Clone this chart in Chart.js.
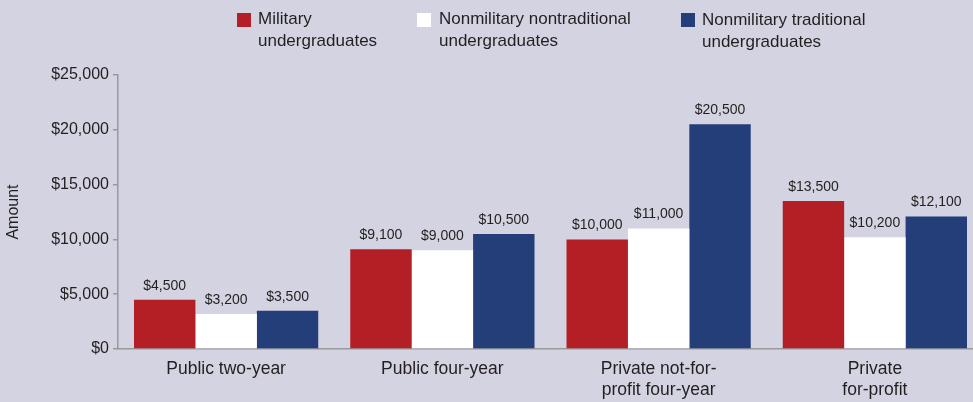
<!DOCTYPE html>
<html>
<head>
<meta charset="utf-8">
<script src="https://cdn.jsdelivr.net/npm/chart.js@4"></script>
<style>
  html, body { margin: 0; padding: 0; background: #d3d3e1; overflow: hidden; }
  #wrap { position: relative; width: 973px; height: 402px; overflow: hidden; background: #d3d3e1; }
  #c { position: absolute; left: 0; top: 0; }
  .lg { position: absolute; font-family: 'Liberation Sans', Arial, sans-serif; font-size: 17px; line-height: 22px; color: #231f20; white-space: nowrap; }
  .bx { position: absolute; width: 14px; height: 14px; }
</style>
</head>
<body>
<div id="wrap">
  <canvas id="c" width="983" height="402"></canvas>
  <div class="bx" style="left:237px;top:13px;background:#b31f24"></div>
  <div class="lg" style="left:258px;top:8px">Military<br>undergraduates</div>
  <div class="bx" style="left:417px;top:13px;background:#ffffff"></div>
  <div class="lg" style="left:439px;top:8px">Nonmilitary nontraditional<br>undergraduates</div>
  <div class="bx" style="left:681px;top:13px;background:#243e7a"></div>
  <div class="lg" style="left:702px;top:9px">Nonmilitary traditional<br>undergraduates</div>
</div>
<script>
const categories = [
  ['Public two-year'],
  ['Public four-year'],
  ['Private not-for-', 'profit four-year'],
  ['Private', 'for-profit']
];
const seriesNames = ['Military undergraduates', 'Nonmilitary nontraditional undergraduates', 'Nonmilitary traditional undergraduates'];
const military = [4500, 9100, 10000, 13500];
const nonmilitaryNontraditional = [3200, 9000, 11000, 10200];
const nonmilitaryTraditional = [3500, 10500, 20500, 12100];
const yTicks = [0, 5000, 10000, 15000, 20000, 25000];

const FONT = "'Liberation Sans', Arial, sans-serif";
const fmt = v => '$' + v.toLocaleString('en-US');

const valueLabels = {
  id: 'valueLabels',
  afterDatasetsDraw(chart) {
    const ctx = chart.ctx;
    ctx.save();
    ctx.font = '14px ' + FONT;
    ctx.fillStyle = '#231f20';
    ctx.textAlign = 'center';
    ctx.textBaseline = 'alphabetic';
    chart.data.datasets.forEach((ds, i) => {
      chart.getDatasetMeta(i).data.forEach((bar, j) => {
        ctx.fillText(fmt(ds.data[j]), bar.x, bar.y - 10);
      });
    });
    ctx.restore();
  }
};

new Chart(document.getElementById('c'), {
  type: 'bar',
  data: {
    labels: categories,
    datasets: [
      { label: seriesNames[0], data: military, backgroundColor: '#b31f24' },
      { label: seriesNames[1], data: nonmilitaryNontraditional, backgroundColor: '#ffffff' },
      { label: seriesNames[2], data: nonmilitaryTraditional, backgroundColor: '#243e7a' }
    ]
  },
  options: {
    responsive: false,
    devicePixelRatio: 1,
    animation: false,
    layout: { padding: { top: 75, right: 0, bottom: 0, left: 0 } },
    datasets: { bar: { categoryPercentage: 0.852, barPercentage: 1.0, borderWidth: 0 } },
    plugins: { legend: { display: false }, tooltip: { enabled: false } },
    scales: {
      x: {
        grid: { display: false },
        border: { display: true, color: '#9a9a9a', width: 1.5 },
        ticks: { font: { family: FONT, size: 17.5, lineHeight: 1.2 }, color: '#231f20', padding: 2, maxRotation: 0 },
        afterFit(scale) { scale.height = 53; }
      },
      y: {
        min: 0, max: 25000,
        afterBuildTicks(scale) { scale.ticks = yTicks.map(v => ({ value: v })); },
        ticks: { font: { family: FONT, size: 16 }, color: '#231f20', padding: 4, callback: v => fmt(v) },
        grid: { drawOnChartArea: false, tickLength: 5, color: '#9a9a9a', lineWidth: 1.5 },
        border: { display: true, color: '#9a9a9a', width: 1.5 },
        title: { display: true, text: 'Amount', font: { family: FONT, size: 16 }, color: '#231f20', padding: { top: 4, bottom: 4 } },
        afterFit(scale) { scale.width = 118; }
      }
    }
  },
  plugins: [valueLabels]
});
</script>
</body>
</html>
